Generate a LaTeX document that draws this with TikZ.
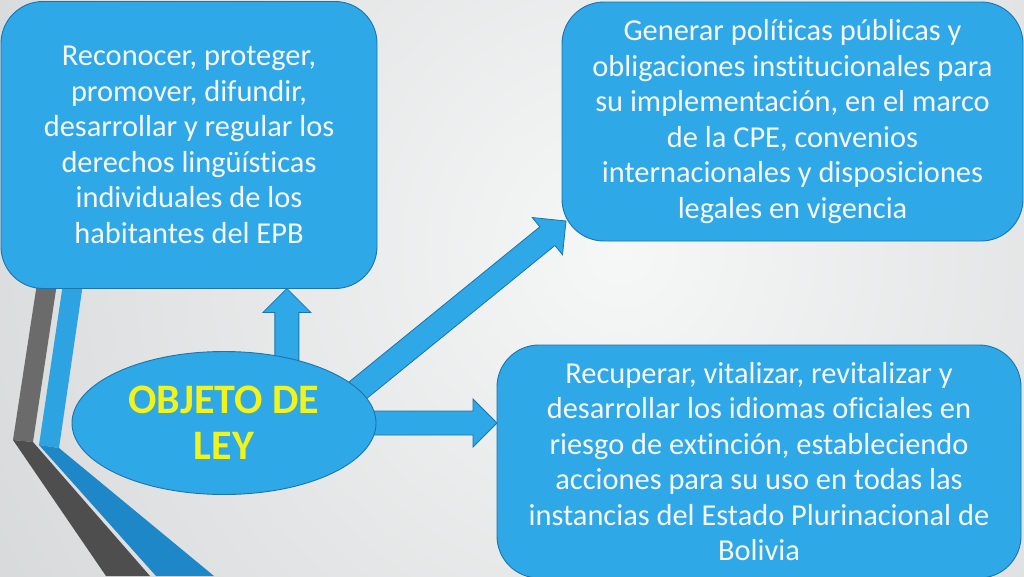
\documentclass[tikz,border=0pt]{standalone}
\usepackage{fontspec}
\setmainfont{Carlito}[Ligatures={NoCommon}]
\usetikzlibrary{calc,shapes.geometric}
\definecolor{boxblue}{HTML}{2EA8E6}
\definecolor{edgeblue}{HTML}{1C74AD}
\definecolor{txtyellow}{HTML}{F2F21C}
\definecolor{bginner}{HTML}{F6F7F7}
\definecolor{bgouter}{HTML}{B9BDBF}
\definecolor{stripegray}{HTML}{6B6B6B}
\definecolor{stripedark}{HTML}{4E4E4E}
\definecolor{stripeblue}{HTML}{2EA3E2}
\definecolor{stripedblue}{HTML}{1E87C7}
\pgfdeclarelayer{bglayer}
\pgfdeclarelayer{arrlayer}
\pgfsetlayers{bglayer,arrlayer,main}
\newcommand\blockarrow[2]{%
  \coordinate (ahb) at ($(#2)!24pt!(#1)$);
  \filldraw[arrowbox] ($(#1)!12pt!90:(#2)$) -- ($(ahb)!12pt!90:(#2)$) -- ($(ahb)!24pt!90:(#2)$) -- (#2) -- ($(ahb)!24pt!-90:(#2)$) -- ($(ahb)!12pt!-90:(#2)$) -- ($(#1)!12pt!-90:(#2)$) -- cycle;}
\begin{document}
\begin{tikzpicture}[x=1pt,y=-1pt,
  box/.style={rectangle, rounded corners=42pt, fill=boxblue, draw=edgeblue, line width=0.9pt, text=white!97!blue, align=center, inner sep=0pt, outer sep=0pt, font=\fontsize{30.4}{35.5}\selectfont},
  arrowbox/.style={fill=boxblue, draw=edgeblue, line width=0.8pt, line join=miter}]
\useasboundingbox (0,0) rectangle (1024,576);
\begin{pgfonlayer}{bglayer}
\begin{scope}
\clip (0,0) rectangle (1024,576);
\shade[inner color=bginner, outer color=bgouter] (-780,-1150) rectangle (2020,1650);
\fill[stripegray] (39,270) -- (59,270) -- (33,442) -- (13,440) -- cycle;
\fill[stripedark] (13,440) -- (33,442) -- (150,576) -- (106,576) -- cycle;
\fill[stripeblue] (65,270) -- (85,270) -- (59,448) -- (39,445) -- cycle;
\fill[stripedblue] (39,445) -- (59,448) -- (214,576) -- (156,576) -- cycle;
\end{scope}
\end{pgfonlayer}

\node[box, minimum width=376pt, minimum height=287pt] (box1) at (189,145) {Reconocer, proteger,\\promover, difundir,\\desarrollar y regular los\\derechos lingüísticas\\individuales de los\\habitantes del EPB};
\node[box, minimum width=461pt, minimum height=239pt] (box2) at (792.5,121.5) {Generar políticas públicas y\\obligaciones institucionales para\\su implementación, en el marco\\de la CPE, convenios\\internacionales y disposiciones\\legales en vigencia};
\node[box, minimum width=524pt, minimum height=233pt] (box3) at (759,461.5) {Recuperar, vitalizar, revitalizar y\\desarrollar los idiomas oficiales en\\riesgo de extinción, estableciendo\\acciones para su uso en todas las\\instancias del Estado Plurinacional de\\Bolivia};
\node[ellipse, fill=boxblue, draw=edgeblue, line width=0.9pt, minimum width=304pt, minimum height=143pt, inner sep=0pt, outer sep=0pt, text=txtyellow, align=center, font=\bfseries\fontsize{42}{46}\selectfont] (obj) at (224,423) {OBJETO DE\\LEY};

\coordinate (upa) at ($(obj.46)+(0,5)$);
\coordinate (upb) at (upa |- box1.south);
\coordinate (ria) at ($(obj.east)+(-5,0)$);
\coordinate (rib) at (ria -| box3.west);
\coordinate (dia) at ($(obj.13)!6pt!(obj.center)$);
\coordinate (dib) at ($(box2.south west)+(4,-20)$);
\begin{pgfonlayer}{arrlayer}
\blockarrow{upa}{upb}
\blockarrow{ria}{rib}
\blockarrow{dia}{dib}
\end{pgfonlayer}
\end{tikzpicture}
\end{document}
